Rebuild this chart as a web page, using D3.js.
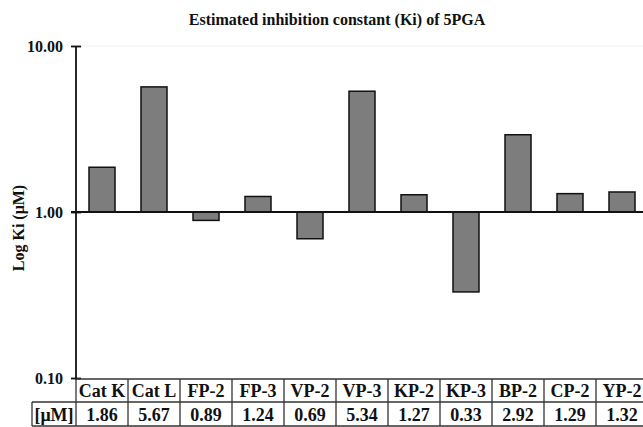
<!DOCTYPE html>
<html>
<head>
<meta charset="utf-8">
<script src="https://cdn.jsdelivr.net/npm/d3@7"></script>
<style>
  html, body { margin: 0; padding: 0; background: #fff; }
  svg { display: block; font-family: "Liberation Serif", "DejaVu Serif", serif; font-weight: bold; }
</style>
</head>
<body>
<div id="chart"></div>
<script>
// data
const categories = ["Cat K", "Cat L", "FP-2", "FP-3", "VP-2", "VP-3", "KP-2", "KP-3", "BP-2", "CP-2", "YP-2"];
const kiValues = [1.86, 5.67, 0.89, 1.24, 0.69, 5.34, 1.27, 0.33, 2.92, 1.29, 1.32];
const valueLabels = ["1.86", "5.67", "0.89", "1.24", "0.69", "5.34", "1.27", "0.33", "2.92", "1.29", "1.32"];
const yTicks = [10, 1, 0.1];

const width = 643, height = 427;
const plotLeft = 76, plotRight = 648, plotTop = 46, plotBottom = 378;
const baseline = 1;

const svg = d3.select("#chart").append("svg")
    .attr("width", width)
    .attr("height", height);

// scales
const x = d3.scaleBand()
    .domain(categories)
    .range([plotLeft, plotRight])
    .paddingInner(0.5)
    .paddingOuter(0.25);

const y = d3.scaleLog()
    .domain([0.1, 10])
    .range([plotBottom, plotTop]);

const step = x.step();

// title
svg.append("text")
    .attr("x", 337)
    .attr("y", 25)
    .attr("text-anchor", "middle")
    .attr("font-size", 16)
    .attr("fill", "#111")
    .text("Estimated inhibition constant (Ki) of 5PGA");

// faint top line
svg.append("line")
    .attr("x1", plotLeft).attr("x2", width)
    .attr("y1", y(10)).attr("y2", y(10))
    .attr("stroke", "#eee");

// bars
svg.selectAll(".bar")
    .data(kiValues)
    .enter()
    .append("rect")
        .attr("class", "bar")
        .attr("x", (d, i) => x(categories[i]))
        .attr("width", x.bandwidth())
        .attr("y", d => Math.min(y(d), y(baseline)))
        .attr("height", d => Math.abs(y(d) - y(baseline)))
        .attr("fill", "#7d7d7d")
        .attr("stroke", "#111")
        .attr("stroke-width", 1.5);

// baseline at 1.00
svg.append("line")
    .attr("x1", plotLeft - 5).attr("x2", width)
    .attr("y1", y(baseline)).attr("y2", y(baseline))
    .attr("stroke", "#111")
    .attr("stroke-width", 1.8);

// y axis
const axis = d3.axisLeft(y)
    .tickValues(yTicks)
    .tickSizeInner(5)
    .tickSizeOuter(0)
    .tickFormat(d3.format(".2f"));

const gAxis = svg.append("g")
    .attr("transform", `translate(${plotLeft},0)`)
    .call(axis);

gAxis.select(".domain").remove();
gAxis.append("line")
    .attr("x1", 0).attr("x2", 0)
    .attr("y1", y(10)).attr("y2", plotBottom + 2)
    .attr("stroke", "#111")
    .attr("stroke-width", 1.8);
gAxis.selectAll(".tick line")
    .attr("x1", 5).attr("x2", -5)
    .attr("stroke", "#111")
    .attr("stroke-width", 1.8);
gAxis.selectAll(".tick text")
    .attr("x", -13)
    .attr("font-family", "Liberation Serif, serif")
    .attr("font-weight", "bold")
    .attr("font-size", 16)
    .attr("fill", "#111");

// y axis title
svg.append("text")
    .attr("transform", `translate(24,${(y(10) + plotBottom) / 2 + 16}) rotate(-90)`)
    .attr("text-anchor", "middle")
    .attr("font-size", 16)
    .attr("fill", "#111")
    .text("Log Ki (\u03bcM)");

// data table
const rowTop = 379, rowMid = 402, rowBot = 426, firstColLeft = 32;
const table = svg.append("g")
    .attr("stroke", "#333")
    .attr("stroke-width", 1.3);

table.append("line").attr("x1", plotLeft).attr("x2", plotRight).attr("y1", rowTop).attr("y2", rowTop);
table.append("line").attr("x1", firstColLeft).attr("x2", plotRight).attr("y1", rowMid).attr("y2", rowMid);
table.append("line").attr("x1", firstColLeft).attr("x2", plotRight).attr("y1", rowBot).attr("y2", rowBot);
table.append("line").attr("x1", firstColLeft).attr("x2", firstColLeft).attr("y1", rowMid).attr("y2", rowBot);

table.selectAll(".divider")
    .data(d3.range(categories.length + 1))
    .enter()
    .append("line")
        .attr("class", "divider")
        .attr("x1", i => plotLeft + i * step)
        .attr("x2", i => plotLeft + i * step)
        .attr("y1", rowTop)
        .attr("y2", rowBot);

svg.selectAll(".catLabel")
    .data(categories)
    .enter()
    .append("text")
        .attr("class", "catLabel")
        .attr("x", d => x(d) + x.bandwidth() / 2)
        .attr("y", rowMid - 5)
        .attr("text-anchor", "middle")
        .attr("font-size", 18)
        .attr("fill", "#111")
        .text(d => d);

svg.selectAll(".valLabel")
    .data(valueLabels)
    .enter()
    .append("text")
        .attr("class", "valLabel")
        .attr("x", (d, i) => x(categories[i]) + x.bandwidth() / 2)
        .attr("y", rowBot - 5)
        .attr("text-anchor", "middle")
        .attr("font-size", 18)
        .attr("fill", "#111")
        .text(d => d);

svg.append("text")
    .attr("x", (firstColLeft + plotLeft) / 2)
    .attr("y", rowBot - 5)
    .attr("text-anchor", "middle")
    .attr("font-size", 18)
    .attr("fill", "#111")
    .text("[\u03bcM]");
</script>
</body>
</html>
